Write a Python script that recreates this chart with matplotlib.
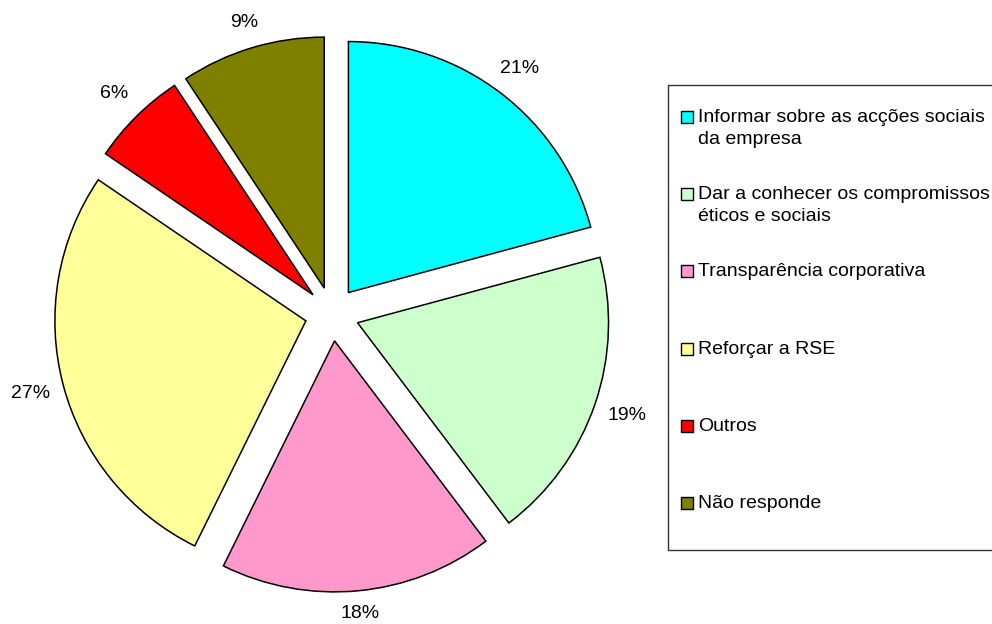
import numpy as np
import matplotlib.pyplot as plt
from matplotlib.patches import Rectangle

plt.rcParams['font.family'] = ['Liberation Sans', 'DejaVu Sans']

labels = ['Informar sobre as acções sociais\nda empresa',
          'Dar a conhecer os compromissos\néticos e sociais',
          'Transparência corporativa',
          'Reforçar a RSE',
          'Outros',
          'Não responde']
values = [20.8, 18.9, 17.6, 27.2, 6.2, 9.3]
colors = ['#00FFFF', '#CCFFCC', '#FF99CC', '#FFFF99', '#FF0000', '#808000']

W, H = 992, 624
fig = plt.figure(figsize=(W / 100, H / 100), dpi=100)
ax = fig.add_axes([0, 0, 1, 1])

# pie in pixel units, y pointing up
cx, cy, r = 332, H - 314, 251
wedges, _, pcts = ax.pie(values, colors=colors, startangle=90, counterclock=False,
                         center=(cx, cy), radius=r, explode=[27] * len(values),
                         autopct='%.0f%%', pctdistance=1.12,
                         wedgeprops=dict(edgecolor='black', linewidth=1.1),
                         textprops=dict(fontsize=14, color='black'))

# push each percentage just outside its wedge, allowing for text width/height
for w, t in zip(wedges, pcts):
    ang = np.deg2rad((w.theta1 + w.theta2) / 2)
    c, s = np.cos(ang), np.sin(ang)
    dist = r + 12 + 20 * abs(c) + 9 * abs(s)
    x0, y0 = w.center
    t.set_position((x0 + dist * c, y0 + dist * s))

ax.set_xlim(0, W)
ax.set_ylim(0, H)
ax.set_aspect('equal')
ax.axis('off')

# legend box, drawn by hand so markers sit on the first text line
ax.add_patch(Rectangle((668, H - 550), 400, 465, facecolor='white',
                       edgecolor='#333333', linewidth=1, clip_on=True))
top, step, line_h = 117, 77.2, 22
for i, (lab, col) in enumerate(zip(labels, colors)):
    y = top + i * step
    ax.add_patch(Rectangle((681, H - y - 6), 12, 12, facecolor=col,
                           edgecolor='black', linewidth=1))
    for j, line in enumerate(lab.split('\n')):
        ax.text(698, H - (y + 5 + j * line_h), line, fontsize=14,
                va='baseline', ha='left')

fig.savefig('out.png', dpi=100)
